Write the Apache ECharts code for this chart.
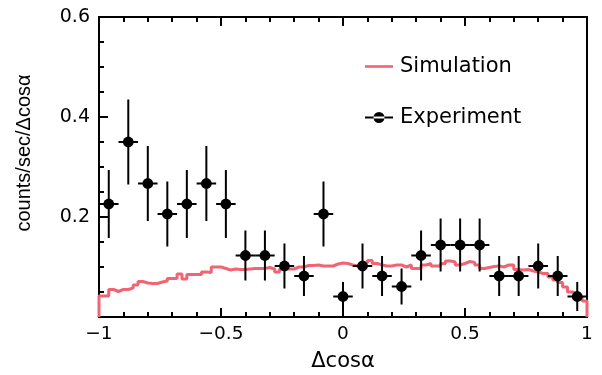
<!DOCTYPE html>
<html>
<head>
<meta charset="utf-8">
<script src="https://cdn.jsdelivr.net/npm/echarts@6/dist/echarts.min.js"></script>
<style>html,body{margin:0;padding:0;background:#fff}#c{width:602px;height:375px}</style>
</head>
<body>
<div id="c"></div>
<script>
// Experiment data (bin centres, values, errors)
const expX = [-0.96,-0.88,-0.80,-0.72,-0.64,-0.56,-0.48,-0.40,-0.32,-0.24,-0.16,-0.08,0.00,0.08,0.16,0.24,0.32,0.40,0.48,0.56,0.64,0.72,0.80,0.88,0.96];
const expY = [0.226,0.350,0.267,0.206,0.226,0.267,0.226,0.123,0.123,0.102,0.082,0.206,0.041,0.102,0.082,0.061,0.123,0.144,0.144,0.144,0.082,0.082,0.102,0.082,0.041];
const expErrLo = [0.068,0.085,0.075,0.065,0.068,0.075,0.068,0.050,0.050,0.045,0.040,0.065,0.041,0.045,0.040,0.036,0.050,0.053,0.053,0.053,0.040,0.040,0.045,0.040,0.029];
const expErrHi = [0.068,0.085,0.075,0.065,0.068,0.075,0.068,0.050,0.050,0.045,0.040,0.065,0.029,0.045,0.040,0.036,0.050,0.053,0.053,0.053,0.040,0.040,0.045,0.040,0.029];
const expHalfWidth = 0.04;

// Simulation histogram: 100 bins of width 0.02 from -1 to 1
const simEdgeStart = -1;
const simBinWidth = 0.02;
const simY = [
0.042,0.042,0.055,0.051,0.055,0.055,0.058,0.064,0.071,0.068,
0.067,0.067,0.070,0.072,0.077,0.077,0.086,0.076,0.085,0.085,
0.085,0.090,0.089,0.100,0.100,0.097,0.094,0.096,0.095,0.095,
0.096,0.097,0.097,0.097,0.099,0.096,0.090,0.096,0.096,0.096,
0.100,0.100,0.103,0.103,0.104,0.102,0.102,0.102,0.106,0.108,
0.107,0.104,0.102,0.102,0.108,0.113,0.107,0.104,0.102,0.102,
0.104,0.104,0.100,0.104,0.097,0.097,0.104,0.107,0.102,0.102,
0.107,0.112,0.110,0.104,0.107,0.111,0.109,0.104,0.097,0.099,
0.101,0.102,0.100,0.104,0.104,0.095,0.094,0.095,0.092,0.090,
0.087,0.087,0.080,0.074,0.069,0.060,0.050,0.046,0.040,0.032
];

const xTickLabels = {'-1':'\u22121','-0.5':'\u22120.5','0':'0','0.5':'0.5','1':'1'};
const yTickLabels = {'0.2':'0.2','0.4':'0.4','0.6':'0.6'};

const simData = [[simEdgeStart, 0]];
for (let i = 0; i < simY.length; i++) {
  simData.push([+(simEdgeStart + i * simBinWidth).toFixed(4), simY[i]]);
}
simData.push([1, simY[simY.length - 1]]);
simData.push([1, 0]);

const expData = expX.map((x, i) => [x, expY[i], expErrLo[i], expErrHi[i]]);

const FONT = 'DejaVu Sans';
const chart = echarts.init(document.getElementById('c'), null, {renderer: 'canvas'});
chart.setOption({
  animation: false,
  backgroundColor: '#fff',
  textStyle: {fontFamily: FONT},
  grid: {left: 99, right: 15, top: 17, bottom: 58, show: true, borderColor: '#000', borderWidth: 2,
    containLabel: false, outerBoundsMode: 'none'},
  legend: {
    left: 365, top: 56, orient: 'vertical', itemGap: 30, itemWidth: 28, itemHeight: 21,
    padding: 0,
    textStyle: {fontFamily: FONT, fontSize: 21, color: '#000', padding: [0,0,0,2]},
    data: [
      {name: 'Simulation', icon: 'path://M0,0h28v2.6h-28z'},
      {name: 'Experiment', icon: 'path://M0,9h28v2h-28z M14,4.5a5.5,5.5 0 1,0 0.001,0z'}
    ]
  },
  xAxis: [{
    type: 'value', min: -1, max: 1, interval: 0.5,
    axisLine: {show: true, onZero: false, lineStyle: {color: '#000', width: 2}},
    axisTick: {show: true, inside: true, length: 9, lineStyle: {color: '#000', width: 2}},
    minorTick: {show: true, splitNumber: 5, length: 5, lineStyle: {color: '#000', width: 2}},
    splitLine: {show: false},
    axisLabel: {fontFamily: FONT, fontSize: 18.5, color: '#000', margin: 8,
      formatter: v => xTickLabels[String(v)] !== undefined ? xTickLabels[String(v)] : ''},
    name: '\u0394cos\u03b1', nameLocation: 'middle', nameGap: 34,
    nameTextStyle: {fontFamily: FONT, fontSize: 21, color: '#000'}
  }, {
    type: 'value', min: -1, max: 1, interval: 0.5, position: 'top',
    axisLine: {show: true, onZero: false, lineStyle: {color: '#000', width: 2}},
    axisTick: {show: true, inside: true, length: 9, lineStyle: {color: '#000', width: 2}},
    minorTick: {show: true, splitNumber: 5, length: 5, lineStyle: {color: '#000', width: 2}},
    splitLine: {show: false},
    axisLabel: {show: false}
  }],
  yAxis: {
    type: 'value', min: 0, max: 0.6, interval: 0.2,
    axisLine: {show: true, onZero: false, lineStyle: {color: '#000', width: 2}},
    axisTick: {show: true, inside: true, length: 9, lineStyle: {color: '#000', width: 2}},
    minorTick: {show: true, splitNumber: 4, length: 5, lineStyle: {color: '#000', width: 2}},
    splitLine: {show: false},
    axisLabel: {fontFamily: FONT, fontSize: 19, color: '#000', margin: 9,
      formatter: v => { const k = String(+v.toFixed(2)); return yTickLabels[k] !== undefined ? yTickLabels[k] : ''; }},
    name: 'counts/sec/\u0394cos\u03b1', nameLocation: 'middle', nameGap: 65,
    nameTextStyle: {fontFamily: 'Liberation Sans', fontSize: 20, color: '#000', padding: [0,0,0,28]}
  },
  series: [
    {
      name: 'Simulation', type: 'line', step: 'end', symbol: 'none',
      data: simData,
      lineStyle: {color: '#f06473', width: 3},
      itemStyle: {color: '#f06473'},
      z: 2
    },
    {
      name: 'Experiment', type: 'custom',
      data: expData,
      itemStyle: {color: '#000'},
      renderItem: function (params, api) {
        const x = api.value(0), y = api.value(1), lo = api.value(2), hi = api.value(3);
        const c = api.coord([x, y]);
        const top = api.coord([x, y + hi]);
        const bot = api.coord([x, y - lo]);
        const l = api.coord([x - expHalfWidth, y]);
        const r = api.coord([x + expHalfWidth, y]);
        const style = {stroke: '#000', lineWidth: 2};
        return {
          type: 'group',
          children: [
            {type: 'line', shape: {x1: c[0], y1: top[1], x2: c[0], y2: bot[1]}, style: style},
            {type: 'line', shape: {x1: l[0], y1: c[1], x2: r[0], y2: c[1]}, style: style},
            {type: 'circle', shape: {cx: c[0], cy: c[1], r: 5.4}, style: {fill: '#000'}}
          ]
        };
      },
      z: 3
    }
  ]
});
</script>
</body>
</html>
